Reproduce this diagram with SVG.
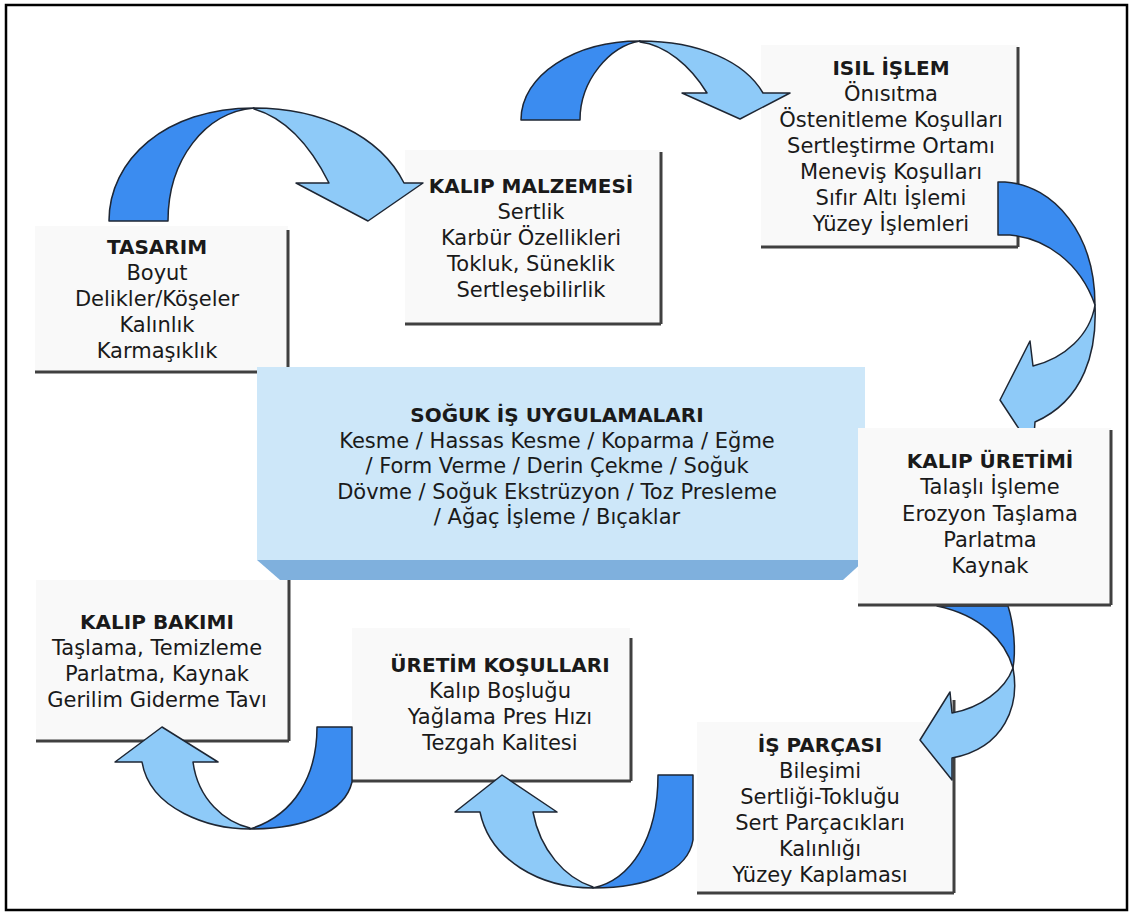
<svg xmlns="http://www.w3.org/2000/svg" width="1134" height="916" viewBox="0 0 1134 916">
<style>
.t{font-family:"DejaVu Sans",Verdana,sans-serif;font-size:21px;fill:#1a1a1a;text-anchor:middle}
.h{font-weight:bold;font-size:20px}
.bg{fill:#f9f9f9}
.ln{stroke:#404040;stroke-width:3;fill:none}
.dk{fill:#3b8cf0;stroke:#1e2633;stroke-width:1.5;stroke-linejoin:round}
.lt{fill:#8ecaf8;stroke:#1e2633;stroke-width:1.5;stroke-linejoin:round}
</style>
<rect x="0" y="0" width="1134" height="916" fill="#fff"/>
<rect x="6" y="5" width="1121" height="905" fill="none" stroke="#000" stroke-width="2.5"/>

<g id="tasarim">
<rect class="bg" x="35" y="226" width="253" height="146"/>
<path class="ln" d="M288,230 V372 M35,372 H288"/>
<text class="t h" x="157" y="254">TASARIM</text>
<text class="t" x="157" y="280">Boyut</text>
<text class="t" x="157" y="306">Delikler/Köşeler</text>
<text class="t" x="157" y="332">Kalınlık</text>
<text class="t" x="157" y="358">Karmaşıklık</text>
</g>

<g id="kalip-malzemesi">
<rect class="bg" x="405" y="150" width="256" height="174"/>
<path class="ln" d="M661,152 V324 M405,324 H661"/>
<text class="t h" x="531" y="193">KALIP MALZEMESİ</text>
<text class="t" x="531" y="219">Sertlik</text>
<text class="t" x="531" y="245">Karbür Özellikleri</text>
<text class="t" x="531" y="271">Tokluk, Süneklik</text>
<text class="t" x="531" y="297">Sertleşebilirlik</text>
</g>

<g id="isil-islem">
<rect class="bg" x="761" y="45" width="257" height="202"/>
<path class="ln" d="M1018,47 V247 M761,247 H1018"/>
<text class="t h" x="891" y="75">ISIL İŞLEM</text>
<text class="t" x="891" y="101">Önısıtma</text>
<text class="t" x="891" y="127">Östenitleme Koşulları</text>
<text class="t" x="891" y="153">Sertleştirme Ortamı</text>
<text class="t" x="891" y="179">Meneviş Koşulları</text>
<text class="t" x="891" y="205">Sıfır Altı İşlemi</text>
<text class="t" x="891" y="231">Yüzey İşlemleri</text>
</g>

<g id="is-parcasi">
<rect class="bg" x="697" y="722" width="257" height="171"/>
<path class="ln" d="M954,700 V893 M697,893 H954"/>
<text class="t h" x="820" y="752">İŞ PARÇASI</text>
<text class="t" x="820" y="778">Bileşimi</text>
<text class="t" x="820" y="804">Sertliği-Tokluğu</text>
<text class="t" x="820" y="830">Sert Parçacıkları</text>
<text class="t" x="820" y="856">Kalınlığı</text>
<text class="t" x="820" y="882">Yüzey Kaplaması</text>
</g>

<g id="uretim-kosullari">
<rect class="bg" x="352" y="628" width="278" height="153"/>
<path class="ln" d="M631,638 V781 M352,781 H631"/>
<text class="t h" x="500" y="672">ÜRETİM KOŞULLARI</text>
<text class="t" x="500" y="698">Kalıp Boşluğu</text>
<text class="t" x="500" y="724">Yağlama Pres Hızı</text>
<text class="t" x="500" y="750">Tezgah Kalitesi</text>
</g>

<g id="kalip-bakimi">
<rect class="bg" x="36" y="580" width="253" height="161"/>
<path class="ln" d="M289,580 V741 M36,741 H289"/>
<text class="t h" x="157" y="629">KALIP BAKIMI</text>
<text class="t" x="157" y="655">Taşlama, Temizleme</text>
<text class="t" x="157" y="681">Parlatma, Kaynak</text>
<text class="t" x="157" y="707">Gerilim Giderme Tavı</text>
</g>

<g id="soguk-is-uygulamalari">
<rect x="257" y="367" width="608" height="193" fill="#cde7f9"/>
<path d="M257,560 H865 L843,580 H280 Z" fill="#7fb0dd"/>
<text class="t h" x="557" y="422">SOĞUK İŞ UYGULAMALARI</text>
<text class="t" x="557" y="448">Kesme / Hassas Kesme / Koparma / Eğme</text>
<text class="t" x="557" y="473">/ Form Verme / Derin Çekme / Soğuk</text>
<text class="t" x="557" y="499">Dövme / Soğuk Ekstrüzyon / Toz Presleme</text>
<text class="t" x="557" y="524">/ Ağaç İşleme / Bıçaklar</text>
</g>

<g id="connectors">
<path class="dk" d="M109,221 C109,160 165,108 254,108 C205,112 168,160 168,221 Z"/>
<path class="lt" d="M254,108 C320,108 380,135 404,183 L423,183 L368,221 L296,183 L329,183 C310,145 285,118 254,109 Z"/>
<path class="dk" d="M521,120 C521,75 575,41 640,41 C610,46 580,80 580,120 Z"/>
<path class="lt" d="M640,41 C700,41 745,62 763,93 L790,93 L740,119 L682,93 L707,93 C690,65 665,45 640,42 Z"/>
<path class="dk" d="M998,182 L1005,182 C1055,185 1095,235 1095,305 C1080,262 1045,238 1010,235 L998,235 Z"/>
<path class="lt" d="M1095,305 C1097,350 1085,400 1035,422 L1033,450 L1000,400 L1030,341 L1033,366 C1065,358 1090,335 1095,305 Z"/>
<path class="dk" d="M937,606 L1008,606 C1014,625 1016,650 1013,668 C1005,640 980,615 937,606 Z"/>
<path class="lt" d="M1013,668 C1020,705 1005,748 952,758 L952,780 L920,740 L950,692 L952,713 C980,708 1005,690 1013,668 Z"/>
<path class="dk" d="M317,727 L352,727 L352,782 C345,812 305,829 250,829 C295,815 317,775 317,727 Z"/>
<path class="lt" d="M250,829 C210,829 150,810 142,762 L115,762 L162,727 L218,762 L193,762 C198,800 225,822 250,828 Z"/>
<path class="dk" d="M658,775 L693,775 L693,840 C688,870 650,888 593,888 C630,880 658,840 658,775 Z"/>
<path class="lt" d="M593,888 C540,888 490,860 480,812 L455,812 L502,775 L557,812 L533,812 C540,850 565,878 593,887 Z"/>
</g>

<g id="kalip-uretimi">
<rect class="bg" x="858" y="428" width="253" height="177"/>
<path class="ln" d="M1111,430 V605 M858,605 H1111"/>
<text class="t h" x="990" y="468">KALIP ÜRETİMİ</text>
<text class="t" x="990" y="494">Talaşlı İşleme</text>
<text class="t" x="990" y="521">Erozyon Taşlama</text>
<text class="t" x="990" y="547">Parlatma</text>
<text class="t" x="990" y="573">Kaynak</text>
</g>
</svg>
